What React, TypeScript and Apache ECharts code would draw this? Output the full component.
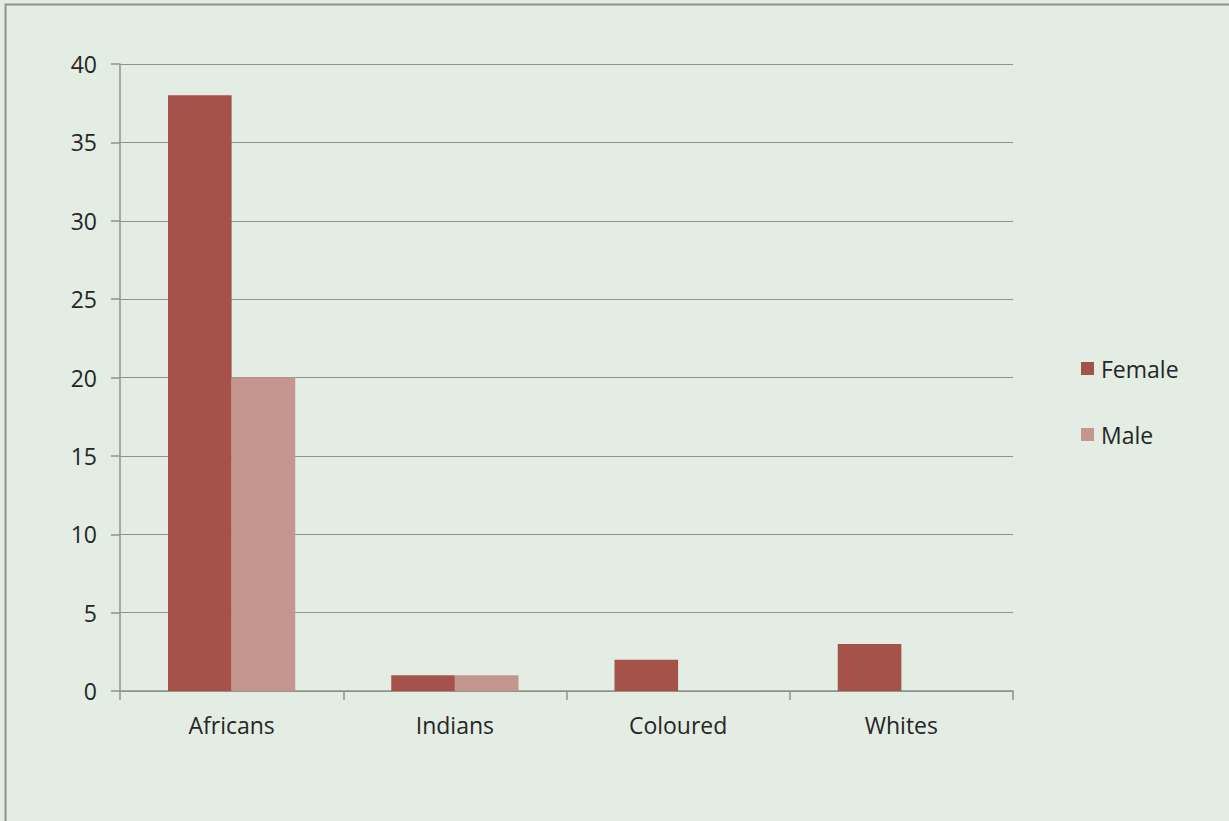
import React, { useEffect, useRef } from "react";
import * as echarts from "echarts";

const categories = ["Africans", "Indians", "Coloured", "Whites"];
const femaleValues = [38, 1, 2, 3];
const maleValues = [20, 1, 0, 0];
const seriesNames = ["Female", "Male"];

export default function App() {
  const ref = useRef<HTMLDivElement>(null);
  useEffect(() => {
    document.body.style.margin = "0";
    const chart = echarts.init(ref.current!, null, { renderer: "svg" });
    const font = "'Open Sans', 'Noto Sans', sans-serif";
    chart.setOption({
      animation: false,
      backgroundColor: "#E3EDE3",
      textStyle: { fontFamily: font },
      graphic: [
        {
          type: "rect",
          shape: { x: 5.5, y: 4.5, width: 1300, height: 900 },
          style: { fill: "none", stroke: "#8E968E", lineWidth: 2 },
          silent: true,
        },
      ],
      grid: { left: 120, top: 64, width: 893, height: 627, containLabel: false },
      legend: {
        orient: "vertical",
        left: 1076,
        top: 352,
        itemWidth: 13,
        itemHeight: 13,
        itemGap: 43,
        icon: "rect",
        data: seriesNames,
        textStyle: { fontSize: 23, color: "#262626", fontFamily: font, padding: [0, 0, 0, 2] },
      },
      xAxis: {
        type: "category",
        data: categories,
        axisLine: { lineStyle: { color: "#8C948C", width: 1.5 } },
        axisTick: { show: true, length: 9, lineStyle: { color: "#8C948C", width: 1.5 } },
        axisLabel: { fontSize: 23, color: "#262626", margin: 22, fontFamily: font },
      },
      yAxis: {
        type: "value",
        min: 0,
        max: 40,
        interval: 5,
        axisLine: { show: true, lineStyle: { color: "#8C948C", width: 1.5 } },
        axisTick: { show: true, length: 9, lineStyle: { color: "#8C948C", width: 1.5 } },
        splitLine: { lineStyle: { color: "#8C948C", width: 1.2 } },
        axisLabel: { fontSize: 23, color: "#262626", margin: 23, fontFamily: font },
      },
      series: [
        {
          name: seriesNames[0],
          type: "bar",
          data: femaleValues,
          itemStyle: { color: "#A5524A" },
          barGap: "0%",
          barCategoryGap: "43%",
        },
        {
          name: seriesNames[1],
          type: "bar",
          data: maleValues,
          itemStyle: { color: "#C4968E" },
          barGap: "0%",
          barCategoryGap: "43%",
        },
      ],
    });
    return () => chart.dispose();
  }, []);
  return <div ref={ref} style={{ width: 1229, height: 821 }} />;
}
